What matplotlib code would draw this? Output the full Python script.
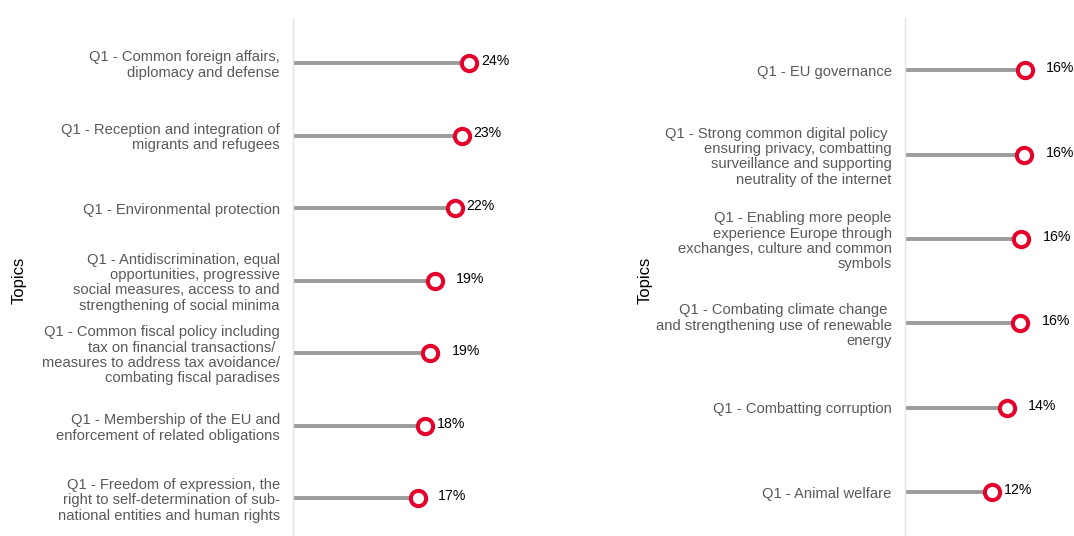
import numpy as np
import matplotlib
matplotlib.use("Agg")
import matplotlib.pyplot as plt

plt.rcParams['font.family'] = ['Liberation Sans', 'DejaVu Sans']

# 데이터
left_topics = [
    "Q1 - Common foreign affairs,\ndiplomacy and defense",
    "Q1 - Reception and integration of\nmigrants and refugees",
    "Q1 - Environmental protection",
    "Q1 - Antidiscrimination, equal\nopportunities, progressive\nsocial measures, access to and\nstrengthening of social minima",
    "Q1 - Common fiscal policy including\ntax on financial transactions/ \nmeasures to address tax avoidance/\ncombating fiscal paradises",
    "Q1 - Membership of the EU and\nenforcement of related obligations",
    "Q1 - Freedom of expression, the\nright to self-determination of sub-\nnational entities and human rights",
]
left_values = [24.1, 23.2, 22.2, 19.4, 18.8, 18.1, 17.1]
left_gaps = [8.6, 7.6, 7.9, 15, 15.5, 8.6, 14.4]

right_topics = [
    "Q1 - EU governance",
    "Q1 - Strong common digital policy \nensuring privacy, combatting\nsurveillance and supporting\nneutrality of the internet",
    "Q1 - Enabling more people\nexperience Europe through\nexchanges, culture and common\nsymbols",
    "Q1 - Combating climate change \nand strengthening use of renewable\nenergy",
    "Q1 - Combatting corruption",
    "Q1 - Animal welfare",
]
right_values = [16.4, 16.3, 15.9, 15.8, 14.0, 11.9]
right_gaps = [15.5, 15.5, 15.5, 15.2, 15.2, 8.6]

RED = "#e4002b"
GRAY = "#9b9b9b"

fig = plt.figure(figsize=(10.74, 5.36), dpi=100)
ax1 = fig.add_axes([293 / 1074, 0.0, 250 / 1074, 518 / 536])
ax2 = fig.add_axes([905 / 1074, 0.0, 169 / 1074, 518 / 536])


def lollipop(ax, topics, values, gaps, xmax):
    y = np.arange(len(topics))
    ax.hlines(y, 0, values, color=GRAY, lw=2.8, zorder=1)
    ax.plot(values, y, "o", ms=11, mew=2.9, mfc="white", mec=RED, zorder=2)
    for yi, v, g in zip(y, values, gaps):
        ax.annotate(f"{round(v)}%", (v, yi), xytext=(g, 1.5), textcoords="offset points",
                    ha="left", va="center", fontsize=10.2, color="black")
    ax.set_yticks(y)
    ax.set_yticklabels(topics, fontsize=10.6, color="#595959", linespacing=1.12)
    ax.tick_params(axis="y", length=0, pad=9.5)
    ax.set_xticks([])
    ax.set_xlim(0, xmax)
    ax.set_ylim(len(topics) - 0.48, -0.62)
    for s in ["top", "right", "bottom"]:
        ax.spines[s].set_visible(False)
    ax.spines["left"].set_color("#e3e3e3")
    ax.spines["left"].set_linewidth(1)
    ax.set_facecolor("none")


lollipop(ax1, left_topics, left_values, left_gaps, 250 / 7.3)
lollipop(ax2, right_topics, right_values, right_gaps, 169 / 7.3)

fig.text(19 / 1074, 1 - 280 / 536, "Topics", rotation=90, ha="center", va="center",
         fontsize=12, color="black")
fig.text(645 / 1074, 1 - 280 / 536, "Topics", rotation=90, ha="center", va="center",
         fontsize=12, color="black")

fig.savefig("out.png", dpi=100, facecolor="white")
